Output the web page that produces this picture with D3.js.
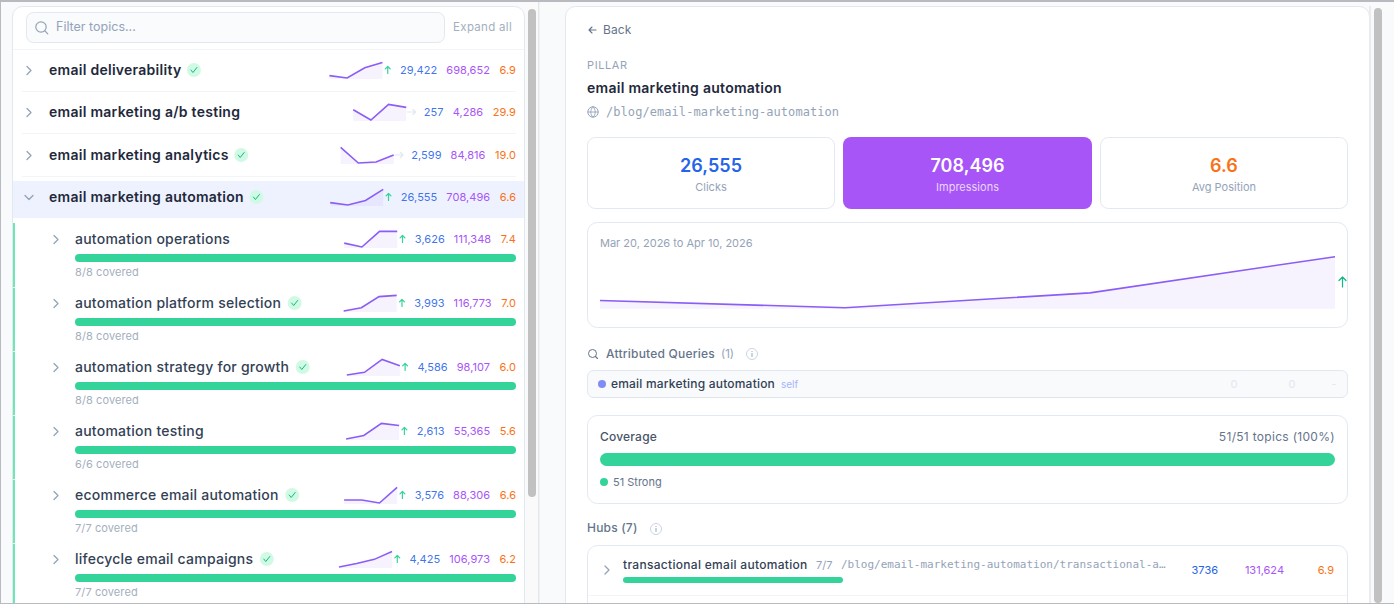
<!DOCTYPE html>
<html>
<head>
<meta charset="utf-8">
<title>Topic coverage</title>
<script src="https://cdnjs.cloudflare.com/ajax/libs/d3/7.8.5/d3.min.js"></script>
<style>
  html, body { margin: 0; padding: 0; background: #fff; overflow: hidden; }
  svg { display: block; font-family: Inter, "Noto Sans", sans-serif; }
</style>
</head>
<body>
<div id="chart"></div>
<script>
// pillar rows (left list)
var pillarTopics = ["email deliverability", "email marketing a/b testing", "email marketing analytics", "email marketing automation"];
var pillarClicks = [29422, 257, 2599, 26555];
var pillarImpressions = [698652, 4286, 84816, 708496];
var pillarPositions = [6.9, 29.9, 19.0, 6.6];
var pillarBadges = [true, false, true, true];
var pillarTrends = ["up", "flat", "flat", "up"];
var pillarSparks = [[15, 0, 66, 100], [66, 0, 100, 81], [100, 0, 6, 51], [15, 0, 29, 100]];

// hub rows under the open pillar
var hubTopics = ["automation operations", "automation platform selection", "automation strategy for growth", "automation testing", "ecommerce email automation", "lifecycle email campaigns"];
var hubClicks = [3626, 3993, 4586, 2613, 3576, 4425];
var hubImpressions = [111348, 116773, 98107, 55365, 88306, 106973];
var hubPositions = [7.4, 7.0, 6.0, 5.6, 6.6, 6.2];
var hubBadges = [false, true, true, false, true, true];
var hubCovered = [8, 8, 8, 6, 7, 7];
var hubTotals = [8, 8, 8, 6, 7, 7];
var hubSparks = [[25, 0, 100, 100], [0, 21, 92, 100], [0, 17, 100, 59], [0, 23, 100, 87], [19, 19, 0, 100], [0, 23, 49, 100]];

// detail panel
var detailTitle = "email marketing automation";
var detailPath = "/blog/email-marketing-automation";
var tileLabels = ["Clicks", "Impressions", "Avg Position"];
var tileValues = ["26,555", "708,496", "6.6"];
var detailRange = "Mar 20, 2026 to Apr 10, 2026";
var detailSpark = [14, 0, 29, 100];
var coverageDone = 51;
var coverageTotal = 51;

var blue = "#2563eb", purple = "#a855f7", orange = "#f97316", green = "#34d399";
var fmt = d3.format(",");
var mono = "'DejaVu Sans Mono', monospace";

var svg = d3.select("#chart").append("svg").attr("width", 1394).attr("height", 604);

function rect(x, y, w, h, fill, r, stroke) {
    return svg.append("rect").attr("x", x).attr("y", y).attr("width", w).attr("height", h)
        .attr("fill", fill).attr("rx", r || 0).attr("stroke", stroke || "none");
}

function label(x, y, str, size, color, weight, anchor, spacing, family) {
    var t = svg.append("text").attr("x", x).attr("y", y).text(str)
        .attr("font-size", size).attr("fill", color)
        .attr("font-weight", weight || 400).attr("text-anchor", anchor || "start")
        .attr("letter-spacing", spacing || 0);
    if (family) t.attr("font-family", family);
    return t;
}

function icon(d, color, width) {
    return svg.append("path").attr("d", d).attr("fill", "none").attr("stroke", color)
        .attr("stroke-width", width || 1.2).attr("stroke-linecap", "round").attr("stroke-linejoin", "round");
}

function chevron(x, y, open) {
    var d = open ? "M" + (x - 4) + "," + (y - 2) + "l4,4l4,-4" : "M" + (x - 2) + "," + (y - 4) + "l4,4l-4,4";
    icon(d, "#94a3b8", 1.3);
}

function badge(x, y) {
    svg.append("circle").attr("cx", x).attr("cy", y).attr("r", 7).attr("fill", "#d1fae5");
    icon("M" + (x - 3) + "," + y + "l2,2.5l4,-5", "#10b981", 1);
}

function arrowUp(x, y, color, h) {
    icon("M" + x + "," + (y + h) + "V" + (y - h) + "M" + (x - h * 0.7) + "," + (y - h * 0.3) + "L" + x + "," + (y - h) + "L" + (x + h * 0.7) + "," + (y - h * 0.3), color, 1.2);
}

function arrowFlat(x, y) {
    icon("M" + (x - 4) + "," + y + "H" + (x + 4) + "M" + (x + 1.5) + "," + (y - 2.5) + "L" + (x + 4) + "," + y + "L" + (x + 1.5) + "," + (y + 2.5), "#e2e8f0", 1.2);
}

function infoIcon(x, y) {
    svg.append("circle").attr("cx", x).attr("cy", y).attr("r", 5.5).attr("fill", "none").attr("stroke", "#cbd5e1");
    icon("M" + x + "," + (y - 0.5) + "V" + (y + 2.5) + "M" + x + "," + (y - 2.6) + "v0.1", "#94a3b8", 1);
}

function spark(values, x0, x1, y0, y1, base, lineWidth) {
    var x = d3.scaleLinear().domain([0, values.length - 1]).range([x0, x1]);
    var y = d3.scaleLinear().domain(d3.extent(values)).range([y1, y0]);
    var area = d3.area().x(function(d, i) { return x(i); }).y0(base).y1(function(d) { return y(d); });
    var line = d3.line().x(function(d, i) { return x(i); }).y(function(d) { return y(d); });
    svg.append("path").datum(values).attr("d", area).attr("fill", "#8b5cf6").attr("fill-opacity", 0.08);
    svg.append("path").datum(values).attr("d", line).attr("fill", "none").attr("stroke", "#8b5cf6").attr("stroke-width", lineWidth);
}

// number columns are laid out right to left like the flex row they came from
function metrics(cy, clicks, impressions, position, trend, sparkValues) {
    var right = 516;
    var p = label(right, cy + 4, position.toFixed(1), 11, orange, 400, "end", 0.05);
    right -= p.node().getComputedTextLength() + 9.5;
    var im = label(right, cy + 4, fmt(impressions), 11, purple, 400, "end", 0.05);
    right -= im.node().getComputedTextLength() + 9;
    var c = label(right, cy + 4, fmt(clicks), 11, blue, 400, "end", 0.05).attr("fill-opacity", 0.9);
    right -= c.node().getComputedTextLength() + 12.3;
    if (trend == "up") arrowUp(right, cy, green, 3.5); else arrowFlat(right, cy);
    right -= 5.3;
    spark(sparkValues, right - 53, right, cy - 7.6, cy + 8, cy + 9, 1.6);
}

function card(x, y, w, h, fill) {
    rect(x + 0.5, y + 0.5, w - 1, h - 1, fill || "#fff", 10, "#e2e8f0");
}

// page frame
rect(0, 0, 1394, 604, "#f8fafc");

// left panel
card(12, 6, 513, 640, "#fff");
rect(526, 2, 12, 602, "#fafafa");
rect(538, 2, 1.5, 602, "#e5e7eb");
rect(528, 9, 8, 488, "#c1c1c1", 4);

rect(26.5, 12.5, 418, 30, "#fafbfd", 7, "#e2e8f0");
svg.append("circle").attr("cx", 41).attr("cy", 27).attr("r", 5.2).attr("fill", "none").attr("stroke", "#94a3b8").attr("stroke-width", 1.2);
icon("M45,31l2.8,2.8", "#94a3b8", 1.2);
label(56, 31, "Filter topics...", 12.5, "#94a3b8");
label(512, 31, "Expand all", 11.5, "#a3afc0", 400, "end", 0.3);
rect(13, 49, 511, 1, "#f1f5f9");

// open pillar highlight
rect(13, 181, 511, 37, "#eef2ff");

var pillarY = d3.scaleOrdinal().domain(pillarTopics).range([70, 112, 155, 197]);
pillarTopics.forEach(function(name, i) {
    var cy = pillarY(name);
    if (i < 3) rect(22, [91, 133, 176][i], 494, 1, "#f1f5f9");
    chevron(29, cy + 0.5, i == 3);
    var t = label(49, cy + 5, name, 14, "#1e293b", 600, "start", 0.27);
    if (pillarBadges[i]) badge(49 + t.node().getComputedTextLength() + 12.5, cy);
    metrics(cy, pillarClicks[i], pillarImpressions[i], pillarPositions[i], pillarTrends[i], pillarSparks[i]);
});

// hub rows
rect(13, 223, 2, 381, "#6ee7b7");
var hubY = d3.scaleLinear().domain([0, 1]).range([239, 303]);
var hubBar = d3.scaleLinear().domain([0, 1]).range([0, 441]);
hubTopics.forEach(function(name, i) {
    var cy = hubY(i);
    chevron(56, cy + 0.5, false);
    var t = label(75, cy + 5, name, 14, "#334155", 500, "start", 0.24);
    if (hubBadges[i]) badge(75 + t.node().getComputedTextLength() + 13.5, cy);
    metrics(cy, hubClicks[i], hubImpressions[i], hubPositions[i], "up", hubSparks[i]);
    rect(75, cy + 15, hubBar(hubCovered[i] / hubTotals[i]), 8, green, 4);
    label(75, cy + 37, hubCovered[i] + "/" + hubTotals[i] + " covered", 11, "#a3afc0", 400, "start", 0.1);
    rect(13, cy + 48, 2, 1, "#d9f7ea");
});

// detail panel
card(565, 6, 805, 640, "#fff");
rect(1369, 6, 2, 598, "#e9ebf0");
rect(1374, 8, 8, 595, "#c1c1c1", 4);

icon("M596,30H589M592,27l-3,3l3,3", "#64748b", 1.1);
label(603, 34, "Back", 12, "#64748b", 400, "start", 0.1);
label(587, 69, "PILLAR", 11, "#94a3b8", 400, "start", 0.6);
label(587, 93, detailTitle, 14, "#1e293b", 600, "start", 0.27);
svg.append("circle").attr("cx", 593).attr("cy", 112).attr("r", 5.2).attr("fill", "none").attr("stroke", "#94a3b8");
icon("M588,112H598M593,106.8C590,109.5 590,114.5 593,117.2C596,114.5 596,109.5 593,106.8", "#94a3b8", 0.9);
label(606, 116, detailPath, 12, "#94a3b8", 400, "start", 0.06, mono);

// metric tiles
var tileX = [587, 843, 1100];
var tileW = [248, 249, 248];
var tileColors = [blue, "#fff", orange];
var tileSub = ["#94a3b8", "#e9d5ff", "#94a3b8"];
tileLabels.forEach(function(name, i) {
    if (i == 1) rect(tileX[i], 137, tileW[i], 72, purple, 8);
    else rect(tileX[i] + 0.5, 137.5, tileW[i] - 1, 71, "#fff", 8, "#e2e8f0");
    var mid = tileX[i] + tileW[i] / 2;
    label(mid, 172, tileValues[i], 18, tileColors[i], 600, "middle", 0.05);
    label(mid, 191, name, 11, tileSub[i], 400, "middle");
});

// trend card
card(587, 222, 761, 106);
label(600, 247, detailRange, 11, "#94a3b8");
spark(detailSpark, 600, 1335, 256.7, 307.7, 308.7, 1.6);
arrowUp(1342.5, 282, "#10b981", 5);

// attributed queries
svg.append("circle").attr("cx", 592.5).attr("cy", 353.5).attr("r", 4).attr("fill", "none").attr("stroke", "#64748b");
icon("M595.5,356.5l2,2", "#64748b", 1.1);
label(606, 358, "Attributed Queries", 12, "#64748b", 500, "start", 0.22);
label(721, 358, "(1)", 11.5, "#94a3b8");
infoIcon(752, 354);
rect(587.5, 370.5, 760, 27, "#f8fafc", 6, "#e2e8f0");
rect(592, 397, 751, 1, "#dfe5ec");
svg.append("circle").attr("cx", 602).attr("cy", 384).attr("r", 4).attr("fill", "#818cf8");
label(611, 388, detailTitle, 12, "#334155", 500, "start", 0.2);
label(781, 388, "self", 10, "#a5b4fc");
label(1234, 388, "0", 11, "#e2e8f0", 400, "middle");
label(1292, 388, "0", 11, "#e2e8f0", 400, "middle");
label(1334, 388, "-", 11, "#e2e8f0", 400, "middle");

// coverage
card(587, 415, 761, 89);
label(600, 441, "Coverage", 12, "#475569", 500, "start", 0.2);
label(1335, 441, coverageDone + "/" + coverageTotal + " topics (" + d3.format(".0%")(coverageDone / coverageTotal) + ")", 12, "#64748b", 400, "end", 0.3);
var coverageBar = d3.scaleLinear().domain([0, coverageTotal]).range([0, 735]);
rect(600, 453, coverageBar(coverageDone), 13, green, 6.5);
svg.append("circle").attr("cx", 604).attr("cy", 482).attr("r", 4).attr("fill", green);
label(613, 486, coverageDone + " Strong", 11, "#64748b");

// hubs table
label(587, 532, "Hubs (7)", 12, "#64748b", 500, "start", 0.2);
infoIcon(656, 529);
card(587, 545, 761, 100);
chevron(607, 570, false);
label(623, 569, "transactional email automation", 12, "#334155", 500, "start", 0.3);
label(816, 569, "7/7", 11, "#94a3b8");
label(841, 568, "/blog/email-marketing-automation/transactional-a\u2026", 11, "#94a3b8", 400, "start", 0, mono);
label(1218, 574, "3736", 11, blue, 400, "end");
label(1284, 574, "131,624", 11, purple, 400, "end");
label(1334, 574, "6.9", 11, orange, 400, "end");
rect(623, 577, 220, 6, green, 3);
rect(588, 595, 759, 1, "#f1f5f9");

// window edge
rect(0, 0, 1394, 2, "#b8babf");
rect(0, 0, 1, 604, "#b8babf");
rect(0, 603, 1394, 1, "#b8babf");
</script>
</body>
</html>
